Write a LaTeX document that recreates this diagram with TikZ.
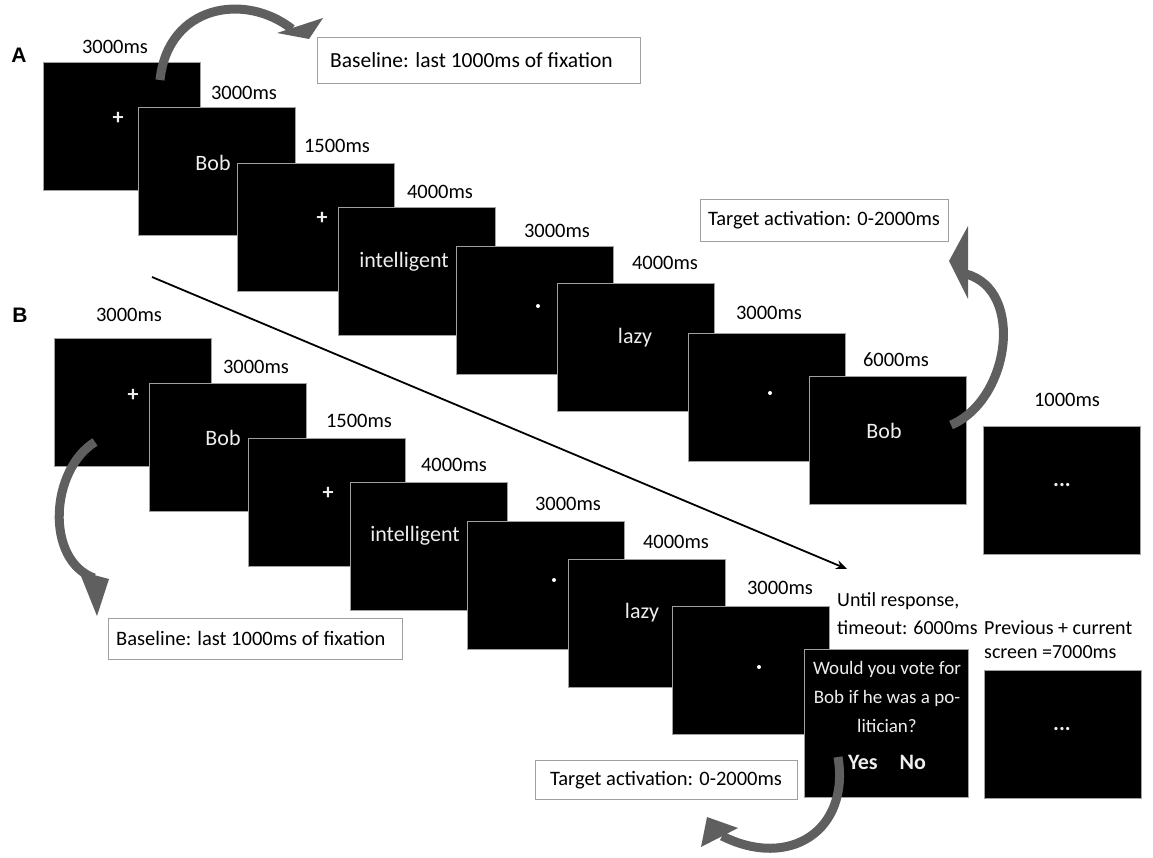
\documentclass[tikz,border=0pt]{standalone}
\usepackage{fontspec}
\setmainfont{Carlito}
\newfontfamily\panelfont{Liberation Sans}
\usetikzlibrary{calc,positioning,arrows.meta}

\definecolor{framegray}{RGB}{160,160,160}
\definecolor{swooshgray}{RGB}{95,95,95}
\definecolor{wordgray}{RGB}{238,238,238}

\begin{document}
\begin{tikzpicture}[x=1pt,y=-1pt,
  screen/.style={fill=black, draw=framegray, line width=1.2pt, anchor=north west,
    minimum width=157pt, minimum height=128pt, inner sep=0pt},
  word/.style={text=wordgray, font=\fontsize{22}{26}\selectfont, inner sep=0pt},
  dur/.style={font=\fontsize{20.5}{24}\selectfont, inner sep=0pt},
  note/.style={draw=framegray, fill=white, line width=1pt, anchor=north west,
    font=\fontsize{20.5}{24}\selectfont, inner sep=0pt},
  fixdot/.style={circle, fill=white, minimum size=4pt, inner sep=0pt},
  panel/.style={font=\panelfont\bfseries\fontsize{21}{24}\selectfont, inner sep=0pt},
  swoosh/.style={draw=swooshgray, line width=9pt},
  swooshhead/.style={fill=swooshgray},
]
  \useasboundingbox (0,0) rectangle (1153,858);

  % row A
  \node[panel] (pa) at (19,55) {A};

  \node[dur] at (115,47) {3000ms};
  \node[screen] (a1) at (43,62) {};
  \node[word] at (118,118) {\textbf{+}};

  \node[dur] at (244,93) {3000ms};
  \node[screen] (a2) at (138,107) {};
  \node[word] at (213,163) {Bob};

  \node[dur] at (337,146) {1500ms};
  \node[screen] (a3) at (237,163) {};
  \node[word] at (322,218) {\textbf{+}};

  \node[dur] at (440,192) {4000ms};
  \node[screen] (a4) at (338,207) {};
  \node[word] at (404,262) {intelligent};

  \node[dur] at (557,231) {3000ms};
  \node[screen] (a5) at (456,246) {};
  \node[fixdot] at (538,306) {};

  \node[dur] at (665,263) {4000ms};
  \node[screen] (a6) at (557,283) {};
  \node[word] at (635,338) {lazy};

  \node[dur] at (769,313) {3000ms};
  \node[screen] (a7) at (688,333) {};
  \node[fixdot] at (770,393) {};

  \node[dur] at (896,360) {6000ms};
  \node[screen] (a8) at (809,376) {};
  \node[word] at (884,431) {Bob};

  \node[dur] at (1067,400) {1000ms};
  \node[screen] (a9) at (983,426) {};
  \node[word] at (1062,485) {\textbf{...}};

  \node[note, minimum width=323pt, minimum height=46pt] (basea) at (317,37) {};
  \node[dur, anchor=west, font=\fontsize{21.5}{24}\selectfont] at (330,60) {Baseline: last 1000ms of fixation};
  \node[note, minimum width=248pt, minimum height=42pt] (targa) at (700,199) {};
  \node[dur] at (824,220) {Target activation: 0-2000ms};

  %%

  % row B
  \node[panel] (pb) at (20,315) {B};

  \node[dur] at (129,315) {3000ms};
  \node[screen] (b1) at (54,338) {};
  \node[word] at (133,395) {\textbf{+}};

  \node[dur] at (256,367) {3000ms};
  \node[screen] (b2) at (149,383) {};
  \node[word] at (223,438) {Bob};

  \node[dur] at (359,421) {1500ms};
  \node[screen] (b3) at (248,438) {};
  \node[word] at (328,493) {\textbf{+}};

  \node[dur] at (454,465) {4000ms};
  \node[screen] (b4) at (350,482) {};
  \node[word] at (415,536) {intelligent};

  \node[dur] at (568,504) {3000ms};
  \node[screen] (b5) at (467,521) {};
  \node[fixdot] at (554,580) {};

  \node[dur] at (676,542) {4000ms};
  \node[screen] (b6) at (568,559) {};
  \node[word] at (642,613) {lazy};

  \node[dur] at (780,588) {3000ms};
  \node[screen] (b7) at (672,606) {};
  \node[fixdot] at (759,667) {};

  \node[dur, anchor=west, align=left, font=\fontsize{20}{28}\selectfont] at (837,614)
    {Until response,\\timeout: 6000ms};
  \node[screen, minimum width=164pt, minimum height=148pt] (b8) at (804,649) {};
  \node[word, align=center, font=\fontsize{19}{29}\selectfont] at (887,697)
    {Would you vote for\\Bob if he was a po-\\litician?};
  \node[word, font=\bfseries\fontsize{22}{26}\selectfont] at (887,762) {Yes\quad No};

  \node[dur, anchor=west, align=left, font=\fontsize{20}{24}\selectfont] at (984,640)
    {Previous + current\\screen =7000ms};
  \node[screen] (b9) at (984,670) {};
  \node[word] at (1062,729) {\textbf{...}};

  \node[note, minimum width=294pt, minimum height=41pt] (baseb) at (108,618) {};
  \node[dur, anchor=west] at (116,638) {Baseline: last 1000ms of fixation};
  \node[note, minimum width=262pt, minimum height=39pt] (targb) at (535,760) {};
  \node[dur] at (666,780) {Target activation: 0-2000ms};

  %%

  % connectors
  \coordinate (diag0) at (152,277);
  \coordinate (diag1) at (847,569);
  \draw[line width=1.8pt, -{Stealth[length=11pt,width=9pt]}] (diag0) -- (diag1);

  % curved arrows: body, then head
  \coordinate (swa0) at (160,80);
  \coordinate (swa1) at (292,29);
  \draw[swoosh] (swa0) .. controls (168,5) and (245,-8) .. (swa1);
  \fill[swooshhead] (277,33) -- (323,18) -- (309,39) -- cycle;

  \coordinate (swr0) at (951,425);
  \coordinate (swr1) at (966,274);
  \draw[swoosh] (swr0) .. controls (1010,400) and (1025,290) .. (swr1);
  \fill[swooshhead] (968,226) -- (949,261) -- (968,299) -- cycle;

  \coordinate (swb0) at (95,442);
  \coordinate (swb1) at (94,578);
  \draw[swoosh] (swb0) .. controls (50,470) and (45,560) .. (swb1);
  \fill[swooshhead] (79,571) -- (109,579) -- (97,616) -- cycle;

  \coordinate (swt0) at (838,757);
  \coordinate (swt1) at (722,836);
  \draw[swoosh] (swt0) .. controls (850,830) and (790,870) .. (swt1);
  \fill[swooshhead] (707,817) -- (738,828) -- (701,847) -- cycle;

\end{tikzpicture}
\end{document}
